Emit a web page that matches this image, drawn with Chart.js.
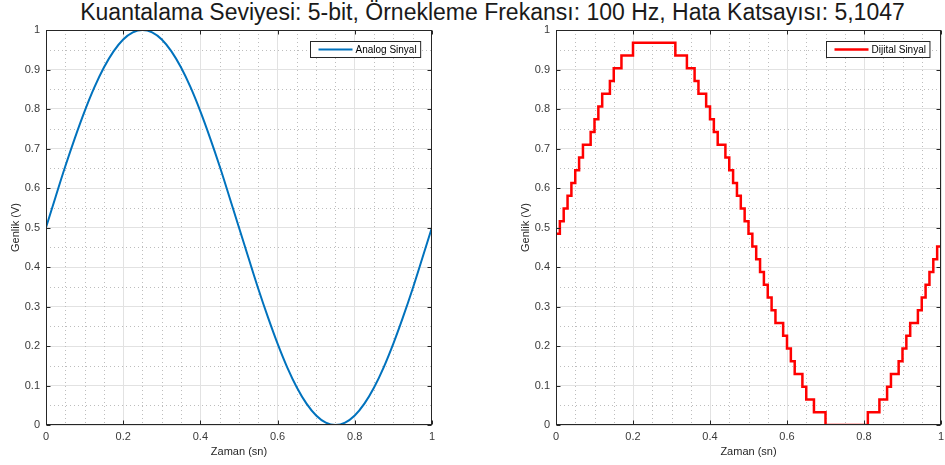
<!DOCTYPE html>
<html>
<head>
<meta charset="utf-8">
<script src="https://cdn.jsdelivr.net/npm/chart.js@4.4.1/dist/chart.umd.min.js"></script>
<style>
    html, body { margin: 0; padding: 0; background: #fff; overflow: hidden; }
    #title {
        position: absolute; left: 0; top: -1px; width: 985px; text-align: center;
        font: 23px "Liberation Sans", Arial, sans-serif; color: #1a1a1a;
    }
    .panel { position: absolute; top: 0; width: 440px; height: 465px; }
</style>
</head>
<body>
<div id="title">Kuantalama Seviyesi: 5-bit, Örnekleme Frekansı: 100 Hz, Hata Katsayısı: 5,1047</div>
<div class="panel" style="left:0"><canvas id="analogChart"></canvas></div>
<div class="panel" style="left:510px"><canvas id="digitalChart"></canvas></div>

<script>
// analog signal, read every 0.025 s
const analogTime = [0, 0.025, 0.05, 0.075, 0.1, 0.125, 0.15, 0.175, 0.2, 0.225,
    0.25, 0.275, 0.3, 0.325, 0.35, 0.375, 0.4, 0.425, 0.45, 0.475,
    0.5, 0.525, 0.55, 0.575, 0.6, 0.625, 0.65, 0.675, 0.7, 0.725,
    0.75, 0.775, 0.8, 0.825, 0.85, 0.875, 0.9, 0.925, 0.95, 0.975, 1];
const analogVolts = [0.5, 0.578, 0.655, 0.727, 0.794, 0.854, 0.905, 0.946, 0.976, 0.994,
    1, 0.994, 0.976, 0.946, 0.905, 0.854, 0.794, 0.727, 0.655, 0.578,
    0.5, 0.422, 0.345, 0.273, 0.206, 0.146, 0.095, 0.054, 0.024, 0.006,
    0, 0.006, 0.024, 0.054, 0.095, 0.146, 0.206, 0.273, 0.345, 0.422, 0.5];

// quantized samples (100 Hz), last value held to t = 1
const sampleTime = [0, 0.01, 0.02, 0.03, 0.04, 0.05, 0.06, 0.07, 0.08, 0.09,
    0.1, 0.11, 0.12, 0.13, 0.14, 0.15, 0.16, 0.17, 0.18, 0.19,
    0.2, 0.21, 0.22, 0.23, 0.24, 0.25, 0.26, 0.27, 0.28, 0.29,
    0.3, 0.31, 0.32, 0.33, 0.34, 0.35, 0.36, 0.37, 0.38, 0.39,
    0.4, 0.41, 0.42, 0.43, 0.44, 0.45, 0.46, 0.47, 0.48, 0.49,
    0.5, 0.51, 0.52, 0.53, 0.54, 0.55, 0.56, 0.57, 0.58, 0.59,
    0.6, 0.61, 0.62, 0.63, 0.64, 0.65, 0.66, 0.67, 0.68, 0.69,
    0.7, 0.71, 0.72, 0.73, 0.74, 0.75, 0.76, 0.77, 0.78, 0.79,
    0.8, 0.81, 0.82, 0.83, 0.84, 0.85, 0.86, 0.87, 0.88, 0.89,
    0.9, 0.91, 0.92, 0.93, 0.94, 0.95, 0.96, 0.97, 0.98, 0.99, 1];
const digitalVolts = [0.4839, 0.5161, 0.5484, 0.5806, 0.6129, 0.6452, 0.6774, 0.7097, 0.7097, 0.7419,
    0.7742, 0.8065, 0.8387, 0.8387, 0.8710, 0.9032, 0.9032, 0.9355, 0.9355, 0.9355,
    0.9677, 0.9677, 0.9677, 0.9677, 0.9677, 0.9677, 0.9677, 0.9677, 0.9677, 0.9677,
    0.9677, 0.9355, 0.9355, 0.9355, 0.9032, 0.9032, 0.8710, 0.8387, 0.8387, 0.8065,
    0.7742, 0.7419, 0.7097, 0.7097, 0.6774, 0.6452, 0.6129, 0.5806, 0.5484, 0.5161,
    0.4839, 0.4516, 0.4194, 0.3871, 0.3548, 0.3226, 0.2903, 0.2581, 0.2581, 0.2258,
    0.1935, 0.1613, 0.1290, 0.1290, 0.0968, 0.0645, 0.0645, 0.0323, 0.0323, 0.0323,
    0, 0, 0, 0, 0, 0, 0, 0, 0, 0,
    0, 0.0323, 0.0323, 0.0323, 0.0645, 0.0645, 0.0968, 0.1290, 0.1290, 0.1613,
    0.1935, 0.2258, 0.2581, 0.2581, 0.2903, 0.3226, 0.3548, 0.3871, 0.4194, 0.4516, 0.4516];

const xTicks = [0, 0.2, 0.4, 0.6, 0.8, 1];
const yTicks = [0, 0.1, 0.2, 0.3, 0.4, 0.5, 0.6, 0.7, 0.8, 0.9, 1];
const minorStep = 0.05;

const FONT = '"Liberation Sans", Arial, sans-serif';
const AXIS_COLOR = '#262626';
const LABEL_COLOR = '#3a3a3a';

function points(xs, ys) {
    return xs.map((x, i) => ({ x: x, y: ys[i] }));
}

// "0", "0.2", "1" rather than "1.0"
function tickText(v) {
    return String(Math.round(v * 10) / 10);
}

// dotted minor grid, box around the axes, inward tick marks, boxed legend
const matlabAxes = {
    id: 'matlabAxes',
    beforeDatasetsDraw(chart) {
        const ctx = chart.ctx;
        const a = chart.chartArea;
        const xs = chart.scales.x, ys = chart.scales.y;
        ctx.save();
        ctx.strokeStyle = '#bdbdbd';
        ctx.lineWidth = 1;
        ctx.setLineDash([1, 3]);
        for (let i = 1; i < 20; i++) {
            const v = i * minorStep;
            if (i % 4 !== 0) {
                const px = Math.round(xs.getPixelForValue(v)) + 0.5;
                ctx.beginPath(); ctx.moveTo(px, a.top); ctx.lineTo(px, a.bottom); ctx.stroke();
            }
            if (i % 2 !== 0) {
                const py = Math.round(ys.getPixelForValue(v)) + 0.5;
                ctx.beginPath(); ctx.moveTo(a.left, py); ctx.lineTo(a.right, py); ctx.stroke();
            }
        }
        ctx.restore();
    },
    afterDraw(chart) {
        const ctx = chart.ctx;
        const a = chart.chartArea;
        const xs = chart.scales.x, ys = chart.scales.y;
        const L = Math.round(a.left) + 0.5, R = Math.round(a.right) - 0.5;
        const T = Math.round(a.top) + 0.5, B = Math.round(a.bottom) - 0.5;
        ctx.save();
        ctx.strokeStyle = AXIS_COLOR;
        ctx.lineWidth = 1;
        ctx.strokeRect(L, T, R - L, B - T);
        ctx.beginPath();
        xTicks.forEach(v => {
            const px = Math.round(xs.getPixelForValue(v)) + 0.5;
            ctx.moveTo(px, B); ctx.lineTo(px, B - 4);
            ctx.moveTo(px, T); ctx.lineTo(px, T + 4);
        });
        yTicks.forEach(v => {
            const py = Math.round(ys.getPixelForValue(v)) + 0.5;
            ctx.moveTo(L, py); ctx.lineTo(L + 4, py);
            ctx.moveTo(R, py); ctx.lineTo(R - 4, py);
        });
        ctx.stroke();

        // legend
        const ds = chart.data.datasets[0];
        ctx.font = '10px ' + FONT;
        const tw = ctx.measureText(ds.label).width;
        const w = 8 + 34 + 3 + tw + 4, h = 16;
        const bx = Math.round(a.right - 12 - w) + 0.5, by = Math.round(a.top + 11) + 0.5;
        ctx.fillStyle = '#fff';
        ctx.fillRect(bx, by, w, h);
        ctx.strokeStyle = AXIS_COLOR;
        ctx.strokeRect(bx, by, w, h);
        ctx.strokeStyle = ds.borderColor;
        ctx.lineWidth = ds.borderWidth;
        ctx.beginPath();
        ctx.moveTo(bx + 8, by + h / 2); ctx.lineTo(bx + 42, by + h / 2);
        ctx.stroke();
        ctx.fillStyle = '#000';
        ctx.textBaseline = 'middle';
        ctx.fillText(ds.label, bx + 45, by + h / 2 + 0.5);
        ctx.restore();
    }
};

function makeOptions(padRight) {
    return {
        responsive: true,
        maintainAspectRatio: false,
        animation: false,
        layout: { padding: { top: 30, right: padRight, left: 0, bottom: 0 } },
        plugins: { legend: { display: false }, tooltip: { enabled: false } },
        elements: { point: { radius: 0 } },
        scales: {
            x: {
                type: 'linear', min: 0, max: 1,
                afterFit: s => { s.height = 40; },
                afterBuildTicks: s => { s.ticks = xTicks.map(v => ({ value: v })); },
                grid: { color: '#e2e2e2', drawTicks: false },
                border: { display: false },
                ticks: { padding: 5, maxRotation: 0, color: LABEL_COLOR, callback: tickText,
                         font: { family: FONT, size: 11 } },
                title: { display: true, text: 'Zaman (sn)', color: AXIS_COLOR, padding: { top: 0, bottom: 6 },
                         font: { family: FONT, size: 11 } }
            },
            y: {
                min: 0, max: 1,
                afterFit: s => { s.width = 46; },
                afterBuildTicks: s => { s.ticks = yTicks.map(v => ({ value: v })); },
                grid: { color: '#e2e2e2', drawTicks: false },
                border: { display: false },
                ticks: { padding: 6, color: LABEL_COLOR, callback: tickText,
                         font: { family: FONT, size: 11 } },
                title: { display: true, text: 'Genlik (V)', color: AXIS_COLOR, padding: { top: 9, bottom: 0 },
                         font: { family: FONT, size: 11 } }
            }
        }
    };
}

new Chart(document.getElementById('analogChart'), {
    type: 'line',
    data: {
        datasets: [{
            label: 'Analog Sinyal',
            data: points(analogTime, analogVolts),
            borderColor: '#0072BD',
            borderWidth: 2,
            cubicInterpolationMode: 'monotone',
            fill: false
        }]
    },
    options: makeOptions(8),
    plugins: [matlabAxes]
});

new Chart(document.getElementById('digitalChart'), {
    type: 'line',
    data: {
        datasets: [{
            label: 'Dijital Sinyal',
            data: points(sampleTime, digitalVolts),
            borderColor: '#FF0000',
            borderWidth: 2.5,
            stepped: 'before',
            fill: false
        }]
    },
    options: makeOptions(9),
    plugins: [matlabAxes]
});
</script>
</body>
</html>
